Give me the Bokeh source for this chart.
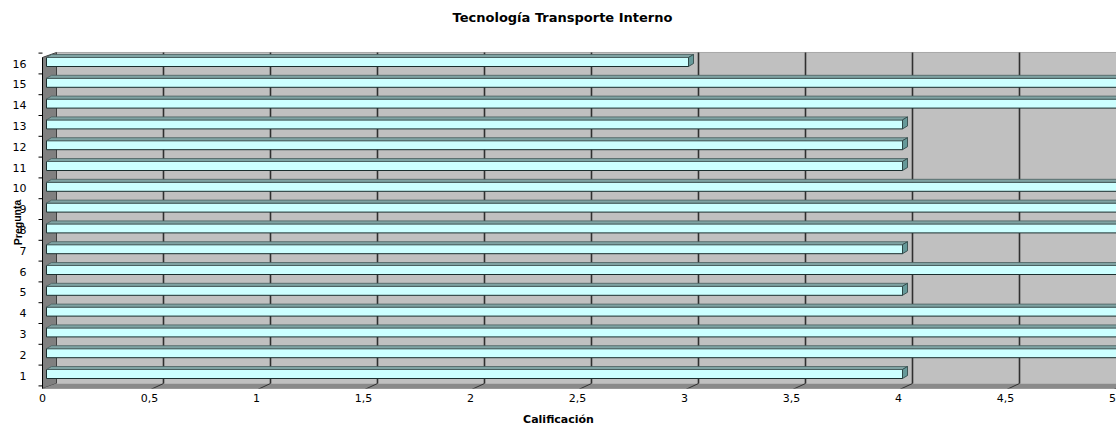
from bokeh.plotting import figure
from bokeh.models import FixedTicker, Range1d
from bokeh.core.properties import value
from bokeh.embed import file_html
from bokeh.resources import INLINE

# ---- data ----
preguntas = [str(i) for i in range(1, 17)]
posiciones = list(range(1, 17))
calificacion = [4, 5, 5, 5, 4, 5, 4, 5, 5, 5, 4, 4, 4, 5, 5, 3]
ticks_x = [0, 0.5, 1, 1.5, 2, 2.5, 3, 3.5, 4, 4.5, 5]
ticks_x_labels = ["0", "0,5", "1", "1,5", "2", "2,5", "3", "3,5", "4", "4,5", "5"]
titulo = "Tecnología Transporte Interno"
eje_x = "Calificación"
eje_y = "Pregunta"

# ---- geometry (style) ----
FW, FH = 1116, 388
SX = 214.0          # px per x unit
SY = 20.8           # px per category
X0 = -42 / SX
X1 = X0 + FW / SX
Y0 = 0.375
Y1 = Y0 + FH / SY
YW = 16.53          # top of walls
ux, uy = 1 / SX, 1 / SY
dxw, dyw = 14 * ux, 5 * uy      # wall depth
ox, oy = 4 * ux, 1.5 * uy       # bar offset into depth
cx, cy = 5 * ux, 3 * uy         # bar cap depth
hh = 4.5 * uy                   # half bar height

p = figure(frame_width=FW, frame_height=FH, output_backend="svg", toolbar_location=None,
           x_range=Range1d(X0, X1), y_range=Range1d(Y0, Y1), y_axis_location=None,
           min_border_left=0, min_border_right=0, min_border_top=0, min_border_bottom=38,
           background_fill_color="white", border_fill_color="white")
p.outline_line_color = None
p.grid.visible = False

# back wall
p.patch([dxw, X1 + 1, X1 + 1, dxw], [Y0 + dyw, Y0 + dyw, YW, YW],
        fill_color="#C0C0C0", line_color=None)
p.segment(x0=[dxw], y0=[YW], x1=[X1 + 1], y1=[YW], line_color="#A8A8A8", line_width=1)
# left wall
p.patch([0, dxw, dxw, 0], [Y0, Y0 + dyw, YW, YW - dyw],
        fill_color="#808080", line_color="#404040", line_width=1)
# floor
p.patch([0, X1 + 1, X1 + 1 + dxw, dxw], [Y0, Y0, Y0 + dyw, Y0 + dyw],
        fill_color="#8A8A8A", line_color=None)
p.segment(x0=[0], y0=[Y0], x1=[X1 + 1], y1=[Y0], line_color="#505050", line_width=1)

# gridlines on back wall and floor
gx = [t + dxw for t in ticks_x[1:]]
p.segment(x0=gx, y0=[Y0 + dyw] * len(gx), x1=gx, y1=[YW] * len(gx),
          line_color="#303030", line_width=1.6)
p.segment(x0=ticks_x[1:], y0=[Y0 - 1.5 * uy] * len(gx), x1=gx, y1=[Y0 + dyw] * len(gx),
          line_color="#303030", line_width=1)

# y axis line and ticks between categories
p.segment(x0=[0], y0=[Y0 - 1.5 * uy], x1=[0], y1=[YW - dyw], line_color="black", line_width=1)
mt = [y + 0.5 for y in range(0, 17)]
p.segment(x0=[-4 * ux] * len(mt), y0=mt, x1=[0] * len(mt), y1=mt, line_color="black", line_width=1)

# bars
right = [v + ox for v in calificacion]
p.hbar(y=[y + oy for y in posiciones], left=ox, right=right, height=2 * hh,
       fill_color="#CCFFFF", line_color="#1a2e2e", line_width=1)
# top faces
tx, ty = [], []
for y, v in zip(posiciones, calificacion):
    top = y + oy + hh
    tx.append([ox, v + ox, v + ox + cx, ox + cx])
    ty.append([top, top, top + cy, top + cy])
p.patches(tx, ty, fill_color="#7FA3A3", line_color="#4a6060", line_width=0.8)
# end caps
ex, ey = [], []
for y, v in zip(posiciones, calificacion):
    b = y + oy - hh
    t = y + oy + hh
    ex.append([v + ox, v + ox + cx, v + ox + cx, v + ox])
    ey.append([b, b + cy, t + cy, t])
p.patches(ex, ey, fill_color="#669999", line_color="#2a4040", line_width=0.8)

font = "DejaVu Sans"
# category labels
p.text(x=[-16 * ux] * len(posiciones), y=posiciones, text=preguntas,
       text_align="right", text_baseline="middle", text_font=value(font),
       text_font_size="11px", text_color="black")
# y axis title (overlapping, as in the original)
p.text(x=[-25 * ux], y=[8.36], text=[eje_y], angle=1.5708,
       text_align="center", text_baseline="middle", text_font=value("Liberation Sans"),
       text_font_style="bold", text_font_size="10.5px", text_color="black")
# chart title
p.text(x=[(562 - 42) * ux], y=[Y0 + (388 - 17) * uy], text=[titulo],
       text_align="center", text_baseline="middle", text_font=value(font),
       text_font_style="bold", text_font_size="13px", text_color="black")

# x axis
p.xaxis.ticker = FixedTicker(ticks=ticks_x)
p.xaxis.major_label_overrides = {t: l for t, l in zip(ticks_x, ticks_x_labels)}
p.xaxis.major_tick_out = 0
p.xaxis.major_tick_in = 0
p.xaxis.minor_tick_out = 0
p.xaxis.axis_line_color = None
p.xaxis.major_label_standoff = 5
p.xaxis.major_label_text_font = font
p.xaxis.major_label_text_font_size = "11px"
p.xaxis.major_label_text_color = "black"
p.xaxis.axis_label = eje_x
p.xaxis.axis_label_text_font = font
p.xaxis.axis_label_text_font_style = "bold"
p.xaxis.axis_label_text_font_size = "11px"
p.xaxis.axis_label_text_color = "black"
p.xaxis.axis_label_standoff = 8

open("out.html", "w").write(file_html(p, INLINE))
